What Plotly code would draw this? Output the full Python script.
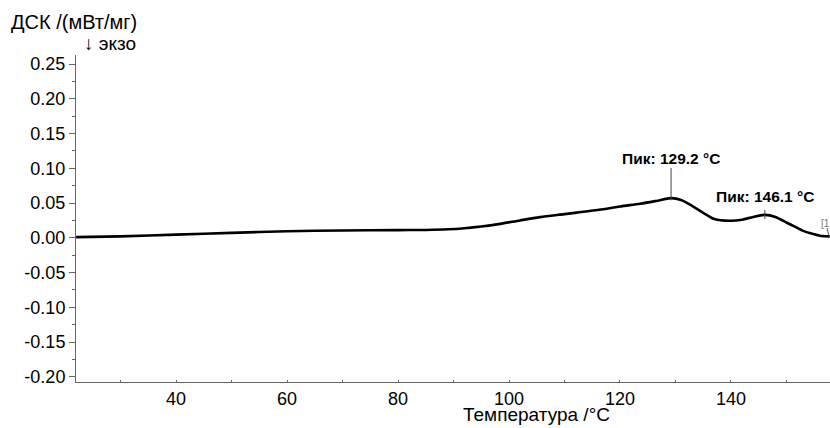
import plotly.graph_objects as go

# DSC heating curve: temperature (°C) vs heat flow (mW/mg)
temperature = [22, 30, 40, 50, 60, 70, 80, 85, 89, 92, 95, 98.4, 102, 105.6, 110, 113,
               117, 120, 123.6, 126.5, 129.2, 131, 133, 135, 137, 139.8, 142, 144,
               146.1, 148, 150, 151.5, 153, 154.5, 156, 157.8]
dsc = [0.001, 0.002, 0.0045, 0.007, 0.0095, 0.0105, 0.011, 0.0113, 0.0122, 0.0138,
       0.0162, 0.0200, 0.025, 0.0297, 0.034, 0.037, 0.041, 0.045, 0.049, 0.053, 0.057,
       0.0545, 0.046, 0.036, 0.027, 0.0245, 0.026, 0.030, 0.033, 0.030, 0.022,
       0.016, 0.010, 0.006, 0.003, 0.002]

peak_temps = [129.2, 146.1]
peak_values = [0.057, 0.033]
peak_labels = ["Пик: 129.2 °C", "Пик: 146.1 °C"]

x_ticks = [40, 60, 80, 100, 120, 140]
y_ticks = [0.25, 0.20, 0.15, 0.10, 0.05, 0.00, -0.05, -0.10, -0.15, -0.20]

FONT = "Liberation Sans, Arial, sans-serif"
AXIS_COLOR = "#666666"

fig = go.Figure()
fig.add_trace(go.Scatter(
    x=temperature, y=dsc, mode="lines",
    line=dict(color="black", width=2.6, shape="spline", smoothing=0.8),
    hoverinfo="skip", showlegend=False,
))

# peak markers: short vertical leaders with bold labels above
leader_spans = [(-0.003, 0.0435), (-0.006, 0.007)]
label_offsets = [0.0565, 0.0266]
for t, v, lab, (d0, d1), off in zip(peak_temps, peak_values, peak_labels,
                                     leader_spans, label_offsets):
    fig.add_shape(type="line", xref="x", yref="y", x0=t, x1=t,
                  y0=v + d0, y1=v + d1,
                  line=dict(color="#444444", width=1))
    fig.add_annotation(x=t, y=v + off, xref="x", yref="y", text=f"<b>{lab}</b>",
                       showarrow=False, xanchor="center", yanchor="middle",
                       font=dict(family=FONT, size=15.5, color="black"))

# curve tag at the right end (runs past the page edge)
fig.add_annotation(x=(819 - 76) / 754, y=(382 - 223) / 327, xref="paper", yref="paper",
                   text="[1.1]", showarrow=False, xanchor="left", yanchor="middle",
                   font=dict(family=FONT, size=10, color="#777777"))
fig.add_shape(type="line", xref="paper", yref="paper",
              x0=(827 - 76) / 754, x1=(829 - 76) / 754,
              y0=(382 - 228) / 327, y1=(382 - 236) / 327,
              line=dict(color="#555555", width=1))

# axis captions
fig.add_annotation(x=(9 - 76) / 754, y=(382 - 22) / 327, xref="paper", yref="paper",
                   text="ДСК /(мВт/мг)", showarrow=False, xanchor="left", yanchor="middle",
                   font=dict(family=FONT, size=20, color="black"))
fig.add_annotation(x=(82 - 76) / 754, y=(382 - 44) / 327, xref="paper", yref="paper",
                   text="↓ экзо", showarrow=False, xanchor="left", yanchor="middle",
                   font=dict(family=FONT, size=19, color="black"))
fig.add_annotation(x=(536 - 76) / 754, y=(382 - 414) / 327, xref="paper", yref="paper",
                   text="Температура /°C", showarrow=False, xanchor="center", yanchor="middle",
                   font=dict(family=FONT, size=19, color="black"))

fig.update_xaxes(
    range=[21.98, 157.84], tickvals=x_ticks, ticktext=[str(v) for v in x_ticks],
    showgrid=False, zeroline=False, showline=True, linecolor=AXIS_COLOR, linewidth=1,
    ticks="inside", ticklen=2, tickcolor=AXIS_COLOR,
    minor=dict(dtick=10, tick0=0, ticks="inside", ticklen=2, tickcolor=AXIS_COLOR),
    tickfont=dict(family=FONT, size=18, color="black"),
)
fig.update_yaxes(
    range=[-0.2075, 0.263], tickvals=y_ticks, ticktext=[f"{v:.2f}" for v in y_ticks],
    showgrid=False, zeroline=False, showline=True, linecolor=AXIS_COLOR, linewidth=1,
    ticks="outside", ticklen=6, tickcolor=AXIS_COLOR,
    minor=dict(dtick=0.025, tick0=0, ticks="outside", ticklen=3, tickcolor=AXIS_COLOR),
    tickfont=dict(family=FONT, size=18, color="black"),
)

fig.update_layout(
    width=830, height=428,
    margin=dict(l=76, r=0, t=55, b=46, pad=0),
    paper_bgcolor="white", plot_bgcolor="white",
    font=dict(family=FONT, color="black"),
)

fig.write_html("out.html", config={"displayModeBar": False})
